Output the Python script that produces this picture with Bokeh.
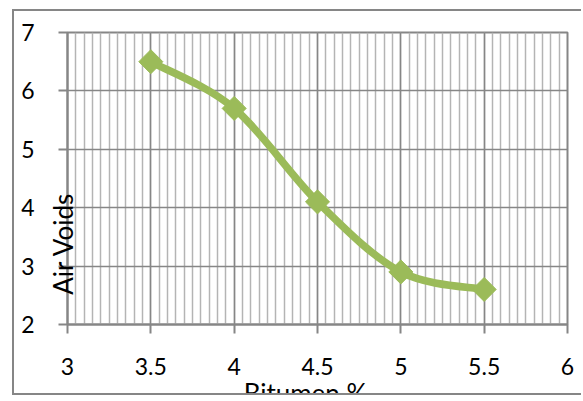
import numpy as np
from bokeh.plotting import figure
from bokeh.layouts import column
from bokeh.models import Range1d, SingleIntervalTicker, NumeralTickFormatter, Label
from bokeh.embed import file_html
from bokeh.resources import INLINE

# ---- data ----
bitumen = [3.5, 4.0, 4.5, 5.0, 5.5]
air_voids = [6.5, 5.7, 4.1, 2.9, 2.6]
x_title = "Bitumen %"
y_title = "Air Voids"

GREEN = "#9BBB59"
GRID = "#868686"
MINOR = "#b4b4b4"
FONT = "Lato"
W, H = 569, 386

p = figure(width=W, height=H, x_range=Range1d(3, 6), y_range=Range1d(2, 7),
           output_backend="svg", toolbar_location=None,
           min_border_left=53, min_border_right=16, min_border_top=21, min_border_bottom=73)
p.styles = {"margin-left": "12px", "margin-top": "9px",
            "border-left": "2px solid #868686", "border-top": "2px solid #868686",
            "border-bottom": "2px solid #868686"}
p.background_fill_color = "white"
p.border_fill_color = "white"
p.outline_line_color = GRID
p.outline_line_width = 2

p.xaxis.ticker = SingleIntervalTicker(interval=0.5, num_minor_ticks=10)
p.yaxis.ticker = SingleIntervalTicker(interval=1, num_minor_ticks=0)
p.xaxis.formatter = NumeralTickFormatter(format="0.[0]")
p.yaxis.formatter = NumeralTickFormatter(format="0")

p.xgrid.grid_line_color = GRID
p.xgrid.grid_line_width = 1.5
p.xgrid.minor_grid_line_color = MINOR
p.xgrid.minor_grid_line_width = 1.5
p.ygrid.grid_line_color = GRID
p.ygrid.grid_line_width = 1.5
p.ygrid.minor_grid_line_color = None

for ax in (p.xaxis[0], p.yaxis[0]):
    ax.axis_line_color = GRID
    ax.axis_line_width = 2
    ax.major_tick_line_color = GRID
    ax.major_tick_line_width = 2
    ax.major_tick_out = 9
    ax.major_tick_in = 0
    ax.minor_tick_out = 0
    ax.minor_tick_in = 0
    ax.major_label_text_font = FONT
    ax.major_label_text_font_size = "23px"
    ax.major_label_text_color = "black"
p.xaxis.major_label_standoff = 24
p.yaxis.major_label_standoff = 24

# ---- smoothed line (Catmull-Rom style bezier through the data points) ----
x = np.array(bitumen)
y = np.array(air_voids)
n = len(x)
i0 = np.arange(n - 1)
xp = x[np.maximum(i0 - 1, 0)]
yp = y[np.maximum(i0 - 1, 0)]
xn = x[np.minimum(i0 + 2, n - 1)]
yn = y[np.minimum(i0 + 2, n - 1)]
x1, y1 = x[:-1], y[:-1]
x2, y2 = x[1:], y[1:]
cx0 = x1 + (x2 - xp) / 6
cy0 = y1 + (y2 - yp) / 6
cx1 = x2 - (xn - x1) / 6
cy1 = y2 - (yn - y1) / 6

p.bezier(x0=x1, y0=y1, x1=x2, y1=y2, cx0=cx0, cy0=cy0, cx1=cx1, cy1=cy1,
         line_color=GREEN, line_width=7.5, line_cap="round")
p.scatter(x, y, marker="square", size=17, angle=np.pi / 4,
          fill_color=GREEN, line_color=GREEN)

# ---- transparent overlay canvas for the axis titles (not clipped to the plot frame) ----
t = figure(width=W, height=H, x_range=Range1d(0, W), y_range=Range1d(H, 0),
           output_backend="svg", toolbar_location=None,
           x_axis_type=None, y_axis_type=None, min_border=0)
t.styles = {"margin-left": "14px", "margin-top": "-388px"}
t.background_fill_color = None
t.border_fill_color = None
t.outline_line_color = None
t.grid.visible = False
for fig in (p, t):
    try:
        fig.frame_align = False
    except AttributeError:
        pass
t.add_layout(Label(x=48, y=236, text=y_title, angle=np.pi / 2,
                   text_align="center", text_baseline="middle",
                   text_font=FONT, text_font_size="26px", text_color="black"))
t.add_layout(Label(x=291, y=369, text=x_title,
                   text_align="center", text_baseline="top",
                   text_font=FONT, text_font_size="26px", text_color="black"))

layout = column(p, t, spacing=0)
open("out.html", "w").write(file_html(layout, INLINE))
